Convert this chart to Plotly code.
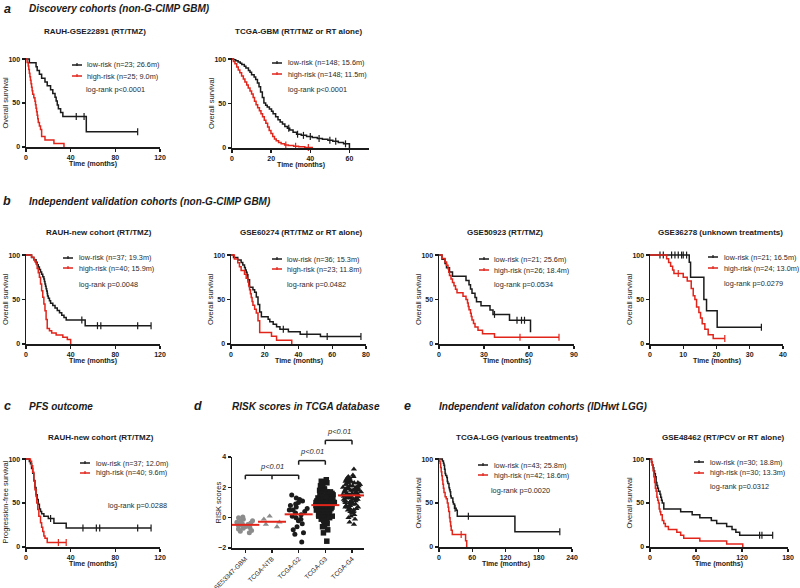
import numpy as np
import plotly.graph_objects as go

W, H = 800, 588
FONT = "Liberation Sans, Arial, sans-serif"
INK = "#1b1b1b"
RED = "#e1251b"
GREY = "#8c8c8c"

# ---------------- Kaplan-Meier data (months, % surviving) ----------------
# a1: RAUH-GSE22891
a1_low_t = [0, 3, 9, 10, 12, 14, 17, 19, 22, 24, 26, 27, 28, 29, 31, 33, 54, 100]
a1_low_s = [100, 95.7, 91.3, 87.0, 82.6, 78.3, 73.9, 69.6, 65.2, 60.9, 56.5, 52.2, 47.8, 43.5, 39.1, 34.8, 17.4, 17.4]
a1_low_ct = [45, 52, 100]
a1_low_cs = [34.8, 34.8, 17.4]
a1_high_t = [0, 1, 2, 2.5, 3, 3.5, 4, 4.5, 5, 5.5, 6, 7, 8, 8.5, 9, 9.5, 10, 10.5, 11, 12, 13, 14, 17, 25, 34]
a1_high_s = [100, 96, 92, 88, 84, 80, 76, 72, 68, 64, 60, 56, 52, 48, 44, 40, 36, 32, 28, 24, 20, 12, 8, 4, 0]

# a2: TCGA-GBM
a2_low_t = [0, 0.8, 1.9, 3.1, 4.2, 5.0, 6.3, 7.1, 8.4, 9.2, 10.0, 11.3, 12.1, 13.0, 13.8, 14.6, 15.5, 16.3,
            17.2, 18.0, 19.1, 20.2, 21.0, 22.3, 23.5, 24.6, 25.8, 27.0, 28.3, 29.5, 31.2, 33.0, 35.4, 38.1,
            41.0, 43.6, 46.2, 49.0, 51.5, 54.3, 57.0, 60.0]
a2_low_s = [100, 99.3, 98.0, 96.6, 95.3, 93.9, 92.0, 89.9, 87.2, 85.1, 82.4, 79.7, 77.0, 73.0, 68.9, 63.0, 56.8,
            50.7, 48.0, 46.0, 43.9, 41.2, 38.5, 35.1, 31.8, 29.1, 27.0, 24.3, 22.3, 20.3, 17.6, 15.5, 14.2,
            12.8, 11.8, 10.8, 9.8, 8.8, 7.5, 6.1, 4.7, 0]
a2_low_ct = [29.0, 33.5, 36.5, 40.0, 44.5, 50.0, 53.0, 58.0]
a2_low_cs = [22.3, 15.5, 14.2, 12.8, 10.8, 8.8, 7.5, 4.7]
a2_high_t = [0, 0.7, 1.5, 2.4, 3.2, 4.0, 4.9, 5.8, 6.6, 7.5, 8.3, 9.2, 10.0, 10.8, 11.5, 12.3, 13.1, 14.0,
             14.8, 15.6, 16.5, 17.3, 18.2, 19.0, 19.9, 20.8, 21.7, 22.6, 23.8, 25.1, 26.9, 28.8, 31.5, 34.0,
             37.2, 41.0]
a2_high_s = [100, 97.3, 94.6, 91.2, 87.8, 84.5, 81.1, 77.7, 74.3, 70.9, 67.6, 64.2, 60.8, 56.8, 52.7, 48.6,
             45.3, 41.9, 38.5, 35.1, 31.1, 27.7, 23.6, 19.6, 16.2, 12.8, 10.1, 8.1, 6.1, 4.7, 3.4, 2.7, 2.0,
             1.4, 0.7, 0]
a2_high_ct = [27.5, 32.5, 39.0]
a2_high_cs = [3.4, 2.0, 0.7]

# b1: RAUH-new cohort (OS)
b1_low_t = [0, 5, 7, 9, 10, 11, 12, 13, 14, 15, 16, 16.5, 17, 17.5, 18, 18.5, 19, 19.3, 20, 21, 22, 24, 26,
            28, 30, 32, 34, 36, 53, 112]
b1_low_s = [100, 97.3, 94.6, 91.9, 89.2, 86.5, 83.8, 81.1, 78.4, 75.7, 73.0, 70.3, 67.6, 64.9, 62.2, 59.5,
            56.8, 54.1, 51.4, 48.6, 45.9, 43.2, 40.5, 37.8, 35.1, 32.4, 29.7, 27.0, 20.6, 20.6]
b1_low_ct = [50, 64, 67, 100, 112]
b1_low_cs = [27.0, 20.6, 20.6, 20.6, 20.6]
b1_high_t = [0, 5, 7, 8, 9, 10, 11, 12, 13, 14, 15, 16, 17, 18, 19, 21, 23, 27, 33, 37, 40]
b1_high_s = [100, 97.5, 95, 92.5, 90, 85, 80, 75, 67.5, 60, 52.5, 45, 37.5, 27.5, 17.5, 15, 12.5, 10, 7.5, 5, 0]

# b2: GSE60274
b2_low_t = [0, 1.5, 4, 6, 7, 8, 8.5, 9, 9.5, 10, 11, 13, 14, 15, 16, 17, 18, 22, 23, 25, 27, 29, 34, 41, 53, 77]
b2_low_s = [100, 97.2, 94.4, 91.7, 88.9, 86.1, 83.3, 80.6, 77.8, 72.2, 63.9, 61.1, 58.3, 52.8, 44.4, 36.1,
            30.6, 27.8, 25.0, 22.2, 19.4, 16.7, 13.9, 11.1, 8.3, 8.3]
b2_low_ct = [31, 45, 57, 77]
b2_low_cs = [16.7, 11.1, 8.3, 8.3]
b2_high_t = [0, 2, 4, 5, 6, 8, 9, 10, 10.5, 11, 11.5, 12, 12.5, 13, 14, 15, 16, 17, 24, 27, 36]
b2_high_s = [100, 95.7, 91.3, 87.0, 82.6, 78.3, 73.9, 69.6, 65.2, 60.9, 56.5, 52.2, 47.8, 43.5, 39.1, 34.8,
             26.1, 13.0, 8.7, 4.3, 0]

# b3: GSE50923
b3_low_t = [0, 2, 4, 5, 7, 9, 18, 20, 21, 22, 24, 25, 28, 34, 36, 47, 61]
b3_low_s = [100, 95.2, 90.5, 85.7, 81.0, 76.2, 71.4, 66.7, 61.9, 57.1, 52.4, 47.6, 42.9, 38.1, 33.3, 26.7, 13.3]
b3_low_ct = [37, 52, 55, 57]
b3_low_cs = [33.3, 26.7, 26.7, 26.7]
b3_high_t = [0, 2, 4, 5, 6, 6.5, 7, 8, 9, 10, 11, 12, 16, 18, 19, 19.5, 20, 21, 21.5, 22, 23, 24, 26, 29, 37, 80]
b3_high_s = [100, 96.2, 92.3, 88.5, 84.6, 80.8, 76.9, 73.1, 69.2, 65.4, 61.5, 57.7, 53.8, 50.0, 46.2, 42.3,
             38.5, 34.6, 30.8, 26.9, 23.1, 19.2, 15.4, 11.5, 7.7, 7.7]
b3_high_ct = [54, 80]
b3_high_cs = [7.7, 7.7]

# b4: GSE36278
b4_low_t = [0, 11.8, 12.2, 16.2, 17.0, 20.2, 33.5]
b4_low_s = [100, 92, 75, 50, 37.5, 18.8, 18.8]
b4_low_ct = [3, 4, 6.5, 7.5, 8.5, 9.5, 10, 11, 33.5]
b4_low_cs = [100, 100, 100, 100, 100, 100, 100, 100, 18.8]
b4_high_t = [0, 5.0, 5.6, 6.2, 6.8, 7.2, 10.0, 11.2, 12.4, 13.0, 13.5, 14.0, 14.7, 15.2, 15.7, 16.5, 17.5, 19.0, 22.5]
b4_high_s = [100, 95.8, 91.7, 87.5, 83.3, 79.2, 75.0, 70.8, 62.5, 54.2, 50.0, 41.7, 35.4, 29.2, 22.9, 16.7,
             10.4, 6.2, 6.2]
b4_high_ct = [8.5, 22.5]
b4_high_cs = [79.2, 6.2]

# c: RAUH-new cohort (PFS)
c_low_t = [0, 3, 4, 5, 6, 7, 8, 9, 10, 11, 12, 13, 14, 16, 20, 25, 36, 112]
c_low_s = [100, 97.3, 94.6, 89.2, 83.8, 75.7, 67.6, 59.5, 54.1, 48.6, 43.2, 40.5, 37.8, 35.1, 32.4, 27.0, 21.6, 21.6]
c_low_ct = [22, 51, 63, 66, 100, 112]
c_low_cs = [32.4, 21.6, 21.6, 21.6, 21.6, 21.6]
c_high_t = [0, 4, 5, 6, 7, 8, 9, 9.6, 10.5, 11.5, 13, 14, 15, 16, 17, 19, 36]
c_high_s = [100, 97.5, 92.5, 85, 75, 65, 57.5, 50, 42.5, 35, 27.5, 22.5, 17.5, 12.5, 10, 5, 5]
c_high_ct = [29, 36]
c_high_cs = [5, 5]

# e1: TCGA-LGG
e1_low_t = [0, 6, 8, 9, 10, 11, 12, 14, 15, 16, 18, 19, 20, 21, 22, 25, 26, 28, 31, 33, 137, 218]
e1_low_s = [100, 97.7, 95.3, 93.0, 88.4, 83.7, 81.4, 79.1, 74.4, 72.1, 67.4, 65.1, 62.8, 58.1, 55.8, 51.2,
            48.8, 44.2, 41.9, 34.9, 17.4, 17.4]
e1_low_ct = [29, 53, 218]
e1_low_cs = [44.2, 34.9, 17.4]
e1_high_t = [0, 1, 2, 3, 4, 5, 6, 7, 8, 9, 11, 13, 15, 16.5, 17.5, 19, 20, 21, 22, 24, 48, 50]
e1_high_s = [100, 97.6, 95.2, 90.5, 85.7, 81.0, 76.2, 71.4, 66.7, 61.9, 57.1, 54.8, 50.0, 45.2, 40.5, 33.3,
             28.6, 23.8, 19.0, 14.3, 7.1, 0]
e1_high_ct = [40]
e1_high_cs = [14.3]

# e2: GSE48462
e2_low_t = [0, 2, 3, 4, 5, 6, 7, 8, 9, 10, 11, 13, 14, 15, 16, 18, 40, 55, 65, 80, 87, 100, 107, 112, 117, 160]
e2_low_s = [100, 96.7, 93.3, 90.0, 86.7, 83.3, 80.0, 73.3, 70.0, 66.7, 63.3, 60.0, 56.7, 53.3, 50.0, 43.3,
            40.0, 36.7, 33.3, 30.0, 26.7, 23.3, 20.0, 16.7, 13.3, 13.3]
e2_low_ct = [143, 146, 160]
e2_low_cs = [13.3, 13.3, 13.3]
e2_high_t = [0, 2, 3, 4, 5, 6, 7, 8, 9, 10, 11, 12, 13, 14, 16, 18, 20, 24, 35, 40, 44, 65, 100, 121]
e2_high_s = [100, 96.7, 93.3, 86.7, 80.0, 73.3, 66.7, 63.3, 56.7, 53.3, 50.0, 43.3, 40.0, 36.7, 30.0, 26.7,
             23.3, 20.0, 16.7, 13.3, 10.0, 6.7, 3.3, 0]

# ---------------- d: risk scores ----------------
risk_groups = ["GSE53347-GBM", "TCGA-NTB", "TCGA-G2", "TCGA-G3", "TCGA-G4"]
risk_gbm = [-1.0, -0.9, -0.85, -0.75, -0.7, -0.65, -0.6, -0.55, -0.5, -0.5, -0.45, -0.4, -0.35, -0.3,
            -0.25, -0.2, -0.1, 0.0, 0.05]
risk_ntb = [0.1, -0.1, -0.3, -0.45, -0.6]
risk_g2 = [1.5, 1.3, 1.2, 1.1, 1.0, 0.9, 0.8, 0.7, 0.6, 0.5, 0.5, 0.4, 0.3, 0.2, 0.1, 0.0, -0.1, -0.2,
           -0.4, -0.6, -0.8, -1.0, -1.1, -1.6]
risk_g3 = [2.5, 2.4, 2.3, 2.2, 2.1, 2.0, 2.0, 1.9, 1.9, 1.8, 1.8, 1.7, 1.7, 1.6, 1.6, 1.6, 1.5, 1.5, 1.5,
           1.4, 1.4, 1.4, 1.3, 1.3, 1.3, 1.3, 1.2, 1.2, 1.2, 1.2, 1.1, 1.1, 1.1, 1.1, 1.0, 1.0, 1.0, 1.0,
           1.0, 0.9, 0.9, 0.9, 0.9, 0.9, 0.8, 0.8, 0.8, 0.8, 0.8, 0.7, 0.7, 0.7, 0.7, 0.7, 0.6, 0.6, 0.6,
           0.6, 0.5, 0.5, 0.5, 0.5, 0.4, 0.4, 0.4, 0.4, 0.3, 0.3, 0.3, 0.3, 0.2, 0.2, 0.2, 0.1, 0.1, 0.1,
           0.0, 0.0, 0.0, -0.1, -0.2, -0.2, -0.3, -0.4, -0.5, -0.6, -0.8, -1.0, -1.55]
risk_g4 = [3.2, 2.8, 2.7, 2.7, 2.6, 2.6, 2.5, 2.5, 2.5, 2.4, 2.4, 2.4, 2.3, 2.3, 2.3, 2.2, 2.2, 2.2, 2.2,
           2.1, 2.1, 2.1, 2.0, 2.0, 2.0, 2.0, 1.9, 1.9, 1.9, 1.9, 1.8, 1.8, 1.8, 1.8, 1.7, 1.7, 1.7, 1.7,
           1.6, 1.6, 1.6, 1.6, 1.5, 1.5, 1.5, 1.5, 1.5, 1.4, 1.4, 1.4, 1.4, 1.4, 1.3, 1.3, 1.3, 1.3, 1.2,
           1.2, 1.2, 1.2, 1.1, 1.1, 1.1, 1.1, 1.0, 1.0, 1.0, 1.0, 0.9, 0.9, 0.9, 0.8, 0.8, 0.8, 0.7, 0.7,
           0.7, 0.6, 0.6, 0.5, 0.5, 0.4, 0.4, 0.3, 0.2, 0.1, 0.0, -0.1, -0.3, -0.45]
risk_values = [risk_gbm, risk_ntb, risk_g2, risk_g3, risk_g4]
risk_symbols = ["circle", "triangle-up", "circle", "square", "triangle-up"]
risk_colors = [GREY, GREY, INK, INK, INK]
comparisons = [(0, 2, "p<0.01"), (2, 3, "p<0.01"), (3, 4, "p<0.01")]

# ---------------- panel setup ----------------
# plot-area boxes in pixels: x0, x1, y0, y1
BOX = {
    1: (26, 160, 58, 147), 2: (232, 369, 58, 148),
    3: (26, 160, 254, 344), 4: (231, 366, 254, 344), 5: (439, 574, 254, 344), 6: (650, 783, 254, 344),
    7: (26, 160, 458, 547), 8: (232, 364, 457, 548), 9: (439, 572, 458, 547), 10: (650, 788, 458, 547),
}

km_panels = [
    dict(n=1, title="RAUH-GSE22891 (RT/TMZ)", tx=95, ty=32, xmax=120, dt=40, ylab="Overall survival",
         low=(a1_low_t, a1_low_s, a1_low_ct, a1_low_cs), high=(a1_high_t, a1_high_s, [], []),
         labels=["low-risk (n=23; 26.6m)", "high-risk (n=25; 9.0m)"], p="log-rank p<0.0001",
         leg=(72, 86, 65, 76, 85, 89)),
    dict(n=2, title="TCGA-GBM (RT/TMZ or RT alone)", tx=298, ty=32, xmax=70, dt=20, ylab="Overall survival",
         low=(a2_low_t, a2_low_s, a2_low_ct, a2_low_cs), high=(a2_high_t, a2_high_s, a2_high_ct, a2_high_cs),
         labels=["low-risk (n=148; 15.6m)", "high-risk (n=148; 11.5m)"], p="log-rank p<0.0001",
         leg=(272, 287, 63, 74, 287, 89)),
    dict(n=3, title="RAUH-new cohort (RT/TMZ)", tx=99, ty=232, xmax=120, dt=40, ylab="Overall survival",
         low=(b1_low_t, b1_low_s, b1_low_ct, b1_low_cs), high=(b1_high_t, b1_high_s, [], []),
         labels=["low-risk (n=37; 19.3m)", "high-risk (n=40; 15.9m)"], p="log-rank p=0.0048",
         leg=(63, 78, 258, 268, 78, 284)),
    dict(n=4, title="GSE60274 (RT/TMZ or RT alone)", tx=301, ty=232, xmax=80, dt=20, ylab="Overall survival",
         low=(b2_low_t, b2_low_s, b2_low_ct, b2_low_cs), high=(b2_high_t, b2_high_s, [], []),
         labels=["low-risk (n=36; 15.3m)", "high-risk (n=23; 11.8m)"], p="log-rank p=0.0482",
         leg=(272, 286, 259, 269, 286, 284)),
    dict(n=5, title="GSE50923 (RT/TMZ)", tx=505, ty=232, xmax=90, dt=30, ylab="Overall survival",
         low=(b3_low_t, b3_low_s, b3_low_ct, b3_low_cs), high=(b3_high_t, b3_high_s, b3_high_ct, b3_high_cs),
         labels=["low-risk (n=21; 25.6m)", "high-risk (n=26; 18.4m)"], p="log-rank p=0.0534",
         leg=(479, 493, 259, 270, 493, 284)),
    dict(n=6, title="GSE36278 (unknown treatments)", tx=720, ty=232, xmax=40, dt=10, ylab="Overall survival",
         low=(b4_low_t, b4_low_s, b4_low_ct, b4_low_cs), high=(b4_high_t, b4_high_s, b4_high_ct, b4_high_cs),
         labels=["low-risk (n=21; 16.5m)", "high-risk (n=24; 13.0m)"], p="log-rank p=0.0279",
         leg=(708, 723, 257, 268, 723, 283)),
    dict(n=7, title="RAUH-new cohort (RT/TMZ)", tx=101, ty=437, xmax=120, dt=40, ylab="Progression-free survival",
         low=(c_low_t, c_low_s, c_low_ct, c_low_cs), high=(c_high_t, c_high_s, c_high_ct, c_high_cs),
         labels=["low-risk (n=37; 12.0m)", "high-risk (n=40; 9.6m)"], p="log-rank p=0.0288",
         leg=(80, 95, 463, 473, 107, 505)),
    dict(n=9, title="TCGA-LGG (various treatments)", tx=517, ty=437, xmax=240, dt=60, ylab="Overall survival",
         low=(e1_low_t, e1_low_s, e1_low_ct, e1_low_cs), high=(e1_high_t, e1_high_s, e1_high_ct, e1_high_cs),
         labels=["low-risk (n=43; 25.8m)", "high-risk (n=42; 18.6m)"], p="log-rank p=0.0020",
         leg=(478, 493, 465, 475, 490, 490)),
    dict(n=10, title="GSE48462 (RT/PCV or RT alone)", tx=723, ty=437, xmax=180, dt=60, ylab="Overall survival",
         low=(e2_low_t, e2_low_s, e2_low_ct, e2_low_cs), high=(e2_high_t, e2_high_s, [], []),
         labels=["low-risk (n=30; 18.8m)", "high-risk (n=30; 13.3m)"], p="log-rank p=0.0312",
         leg=(694, 709, 462, 473, 709, 486)),
]

headers = [
    ("a", 7, "Discovery cohorts (non-G-CIMP GBM)", 28, 9),
    ("b", 7, "Independent validation cohorts (non-G-CIMP GBM)", 28, 201),
    ("c", 7, "PFS outcome", 28, 406),
    ("d", 198, "RISK scores in TCGA database", 231, 406),
    ("e", 407, "Independent validaton cohorts (IDHwt LGG)", 438, 406),
]

fig = go.Figure()
annotations = []
shapes = []


def sfx(n):
    return "" if n == 1 else str(n)


def note(x, y, s, size, xanchor="center", yanchor="middle", angle=0, color=INK):
    annotations.append(dict(x=x / W, y=1 - y / H, xref="paper", yref="paper", text=s, showarrow=False,
                            xanchor=xanchor, yanchor=yanchor, textangle=angle, borderpad=0,
                            font=dict(family=FONT, size=size, color=color)))


def pline(x0, y0, x1, y1, color, width=1.5):
    shapes.append(dict(type="line", xref="paper", yref="paper", x0=x0 / W, y0=1 - y0 / H,
                       x1=x1 / W, y1=1 - y1 / H, line=dict(color=color, width=width)))


AX = dict(showline=True, linecolor=INK, linewidth=1.5, ticks="outside", ticklen=3, tickwidth=1.3,
          tickcolor=INK, showgrid=False, zeroline=False, automargin=False,
          tickfont=dict(family=FONT, size=7, color=INK, weight="bold"))


def set_axes(n, xcfg, ycfg):
    x0, x1, y0, y1 = BOX[n]
    k = sfx(n)
    fig.update_layout(**{
        "xaxis" + k: {**AX, "domain": [x0 / W, x1 / W], "anchor": "y" + k, **xcfg},
        "yaxis" + k: {**AX, "domain": [1 - y1 / H, 1 - y0 / H], "anchor": "x" + k, **ycfg},
    })


for p in km_panels:
    n = p["n"]
    k = sfx(n)
    x0, x1, y0, y1 = BOX[n]
    set_axes(n, dict(range=[0, p["xmax"]], tickvals=list(range(0, p["xmax"] + 1, p["dt"]))),
             dict(range=[0, 101.2], tickvals=[0, 50, 100]))
    for (t, s, ct, cs), col in ((p["low"], INK), (p["high"], RED)):
        fig.add_trace(go.Scatter(x=t, y=s, mode="lines", line=dict(color=col, width=1.5, shape="hv"),
                                 xaxis="x" + k, yaxis="y" + k, showlegend=False, hoverinfo="skip"))
        if ct:
            fig.add_trace(go.Scatter(x=ct, y=cs, mode="markers", cliponaxis=False,
                                     marker=dict(symbol="line-ns", size=5, line=dict(color=col, width=1.2)),
                                     xaxis="x" + k, yaxis="y" + k, showlegend=False, hoverinfo="skip"))
    # titles
    note(p["tx"], p["ty"], "<b>" + p["title"] + "</b>", 8)
    note((x0 + x1) / 2, y1 + 17, "<b>Time (months)</b>", 7)
    note(x0 - 21, (y0 + y1) / 2, p["ylab"], 7.5, angle=-90)
    # legend block
    sx, tx, yl, yh, px, py = p["leg"]
    for yy, col, lab in ((yl, INK, p["labels"][0]), (yh, RED, p["labels"][1])):
        pline(sx, yy, sx + 10, yy, col)
        pline(sx + 5, yy - 2, sx + 5, yy + 1, col, 1.2)
        note(tx, yy, lab, 7.3, xanchor="left", color="#2a2a2a")
    note(px, py, p["p"].replace("<", "&lt;"), 7.3, xanchor="left", color="#2a2a2a")

# ---------------- panel d ----------------
set_axes(8, dict(type="category", categoryorder="array", categoryarray=risk_groups, range=[-0.5, 4.45],
                 tickangle=-45, tickfont=dict(family=FONT, size=6.5, color=INK)),
         dict(range=[-2, 4], tickvals=[-2, 0, 2, 4]))
for g, vals, sym, col in zip(risk_groups, risk_values, risk_symbols, risk_colors):
    fig.add_trace(go.Box(x=[g] * len(vals), y=vals, boxpoints="all", jitter=1, pointpos=0, width=0.72,
                         fillcolor="rgba(0,0,0,0)", line=dict(width=0, color="rgba(0,0,0,0)"),
                         marker=dict(symbol=sym, size=5.5 if sym != "circle" else 5, color=col),
                         xaxis="x8", yaxis="y8", showlegend=False, hoverinfo="skip"))
fig.add_trace(go.Scatter(x=risk_groups, y=[float(np.mean(v)) for v in risk_values], mode="markers",
                         marker=dict(symbol="line-ew", size=20, line=dict(color=RED, width=2)),
                         xaxis="x8", yaxis="y8", showlegend=False, hoverinfo="skip"))

y8_lo, y8_hi = -2, 4
bracket_y = [2.8, 3.76, 5.1]
for (i, j, lab), by in zip(comparisons, bracket_y):
    f = (by - y8_lo) / (y8_hi - y8_lo)
    tick = 0.27 / (y8_hi - y8_lo)
    shapes.append(dict(type="line", xref="x8", yref="y8 domain", x0=i, x1=j, y0=f, y1=f,
                       line=dict(color=INK, width=1.5)))
    for xx in ([i, j] if j - i == 1 else [i, (i + j) / 2, j]):
        shapes.append(dict(type="line", xref="x8", yref="y8 domain", x0=xx, x1=xx, y0=f, y1=f - tick,
                           line=dict(color=INK, width=1.5)))
    annotations.append(dict(x=(i + j) / 2, y=f + 0.04, xref="x8", yref="y8 domain", yanchor="bottom",
                            text="<i>" + lab.replace("<", "&lt;") + "</i>", borderpad=0,
                            showarrow=False, font=dict(family=FONT, size=7.5, color="#2a2a2a")))
x0, x1, y0, y1 = BOX[8]
note(x0 - 14, (y0 + y1) / 2, "RISK scores", 7.5, angle=-90)

# ---------------- section headers ----------------
for letter, lx, text, hx, hy in headers:
    note(lx, hy, "<b><i>" + letter + "</i></b>", 12.5)
    note(hx, hy, "<b><i>" + text + "</i></b>", 10, xanchor="left")

fig.update_layout(template="none", width=W, height=H, margin=dict(l=0, r=0, t=0, b=0), autosize=False,
                  paper_bgcolor="white", plot_bgcolor="white", boxmode="overlay",
                  annotations=annotations, shapes=shapes, font=dict(family=FONT, color=INK))
fig.write_html("out.html", config={"displayModeBar": False, "staticPlot": True},
               post_script="document.body.style.margin='0';document.body.style.overflow='hidden';")
